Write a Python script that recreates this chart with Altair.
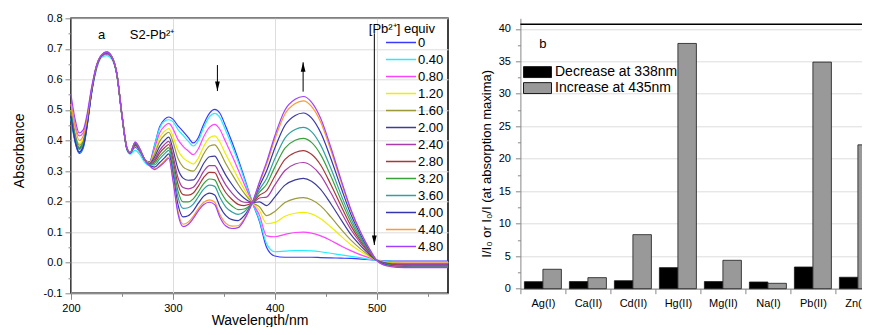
import altair as alt
import pandas as pd

FONT = "Liberation Sans"

# ---------------- panel a : absorption spectra ----------------
WAVELENGTH = [200, 204, 208, 212, 216, 220, 225, 230, 235, 240, 245, 250, 255, 258, 263,
              268, 272, 277, 282, 287, 292, 296, 300, 305, 310, 315, 320, 325, 330, 336,
              341, 346, 352, 358, 364, 370, 378, 385, 392, 400, 410, 420, 428, 436, 445,
              455, 465, 475, 485, 493, 500, 510, 520, 535, 550, 570]

EQUIV = ["0", "0.40", "0.80", "1.20", "1.60", "2.00", "2.40", "2.80", "3.20", "3.60", "4.00", "4.40", "4.80"]
COLORS = ["#3a3aff", "#22eeff", "#ff44ff", "#eeee00", "#9a9a3a", "#3c3c9c", "#a83ca8",
          "#a83838", "#3aa03a", "#30a0a0", "#3535b0", "#ff9a30", "#a040ff"]

A_0 = [0.47, 0.395, 0.358, 0.375, 0.45, 0.55, 0.635, 0.675, 0.683, 0.67, 0.615, 0.48, 0.37, 0.358, 0.378,
       0.36, 0.338, 0.33, 0.385, 0.445, 0.47, 0.477, 0.47, 0.448, 0.43, 0.41, 0.392, 0.41, 0.452, 0.49,
       0.502, 0.49, 0.445, 0.395, 0.34, 0.28, 0.197, 0.135, 0.05, 0.022, 0.018, 0.018, 0.018, 0.018, 0.017,
       0.016, 0.015, 0.014, 0.012, 0.01, 0.008, 0.006, 0.005, 0.005, 0.005, 0.005]
A_040 = [0.473, 0.398, 0.361, 0.378, 0.452, 0.551, 0.633, 0.672, 0.678, 0.666, 0.612, 0.478, 0.368, 0.355, 0.368,
         0.352, 0.33, 0.318, 0.382, 0.44, 0.464, 0.468, 0.462, 0.436, 0.417, 0.398, 0.382, 0.40, 0.441, 0.478,
         0.489, 0.476, 0.431, 0.383, 0.331, 0.274, 0.197, 0.140, 0.062, 0.036, 0.038, 0.040, 0.040, 0.039, 0.036,
         0.031, 0.026, 0.021, 0.016, 0.011, 0.008, 0.005, 0.004, 0.004, 0.004, 0.004]
A_080 = [0.52, 0.45, 0.415, 0.425, 0.48, 0.565, 0.637, 0.676, 0.684, 0.671, 0.616, 0.481, 0.371, 0.358, 0.381,
         0.362, 0.338, 0.328, 0.373, 0.425, 0.448, 0.456, 0.439, 0.403, 0.381, 0.366, 0.354, 0.373, 0.411, 0.444,
         0.453, 0.437, 0.394, 0.351, 0.305, 0.258, 0.197, 0.155, 0.088, 0.085, 0.093, 0.099, 0.100, 0.097, 0.088,
         0.073, 0.055, 0.039, 0.025, 0.016, 0.008, 0.004, 0.002, 0.002, 0.002, 0.002]
A_120 = [0.50, 0.42, 0.39, 0.405, 0.465, 0.558, 0.638, 0.676, 0.685, 0.671, 0.616, 0.481, 0.371, 0.359, 0.383,
         0.363, 0.339, 0.327, 0.363, 0.409, 0.431, 0.439, 0.414, 0.368, 0.343, 0.331, 0.323, 0.343, 0.379, 0.409,
         0.415, 0.395, 0.354, 0.316, 0.277, 0.241, 0.197, 0.171, 0.128, 0.132, 0.152, 0.162, 0.165, 0.160, 0.144,
         0.117, 0.087, 0.058, 0.035, 0.020, 0.008, 0.002, -0.001, -0.001, -0.001, -0.001]
A_160 = [0.50, 0.423, 0.385, 0.397, 0.465, 0.557, 0.639, 0.677, 0.686, 0.672, 0.617, 0.482, 0.372, 0.359, 0.384,
         0.364, 0.339, 0.326, 0.355, 0.397, 0.418, 0.427, 0.396, 0.341, 0.314, 0.304, 0.300, 0.321, 0.355, 0.382,
         0.386, 0.364, 0.324, 0.290, 0.257, 0.228, 0.197, 0.183, 0.154, 0.168, 0.197, 0.210, 0.213, 0.206, 0.186,
         0.150, 0.110, 0.073, 0.043, 0.023, 0.008, 0.000, -0.002, -0.003, -0.003, -0.003]
A_200 = [0.48, 0.40, 0.362, 0.38, 0.455, 0.555, 0.640, 0.677, 0.686, 0.672, 0.617, 0.482, 0.372, 0.359, 0.386,
         0.365, 0.339, 0.324, 0.346, 0.381, 0.401, 0.411, 0.372, 0.307, 0.277, 0.270, 0.271, 0.292, 0.324, 0.347,
         0.349, 0.323, 0.286, 0.256, 0.230, 0.211, 0.197, 0.199, 0.187, 0.215, 0.254, 0.271, 0.276, 0.267, 0.240,
         0.193, 0.141, 0.091, 0.053, 0.027, 0.008, -0.002, -0.005, -0.005, -0.005, -0.005]
A_240 = [0.49, 0.41, 0.375, 0.39, 0.46, 0.556, 0.641, 0.678, 0.687, 0.673, 0.618, 0.483, 0.373, 0.359, 0.388,
         0.366, 0.339, 0.323, 0.338, 0.368, 0.388, 0.397, 0.352, 0.278, 0.246, 0.242, 0.247, 0.269, 0.298, 0.318,
         0.318, 0.290, 0.254, 0.228, 0.208, 0.198, 0.197, 0.212, 0.215, 0.254, 0.302, 0.323, 0.328, 0.317, 0.286,
         0.229, 0.166, 0.107, 0.061, 0.031, 0.008, -0.003, -0.007, -0.007, -0.007, -0.007]
A_280 = [0.49, 0.41, 0.372, 0.39, 0.46, 0.557, 0.642, 0.678, 0.688, 0.673, 0.618, 0.483, 0.373, 0.359, 0.389,
         0.367, 0.339, 0.322, 0.332, 0.359, 0.377, 0.387, 0.337, 0.257, 0.223, 0.221, 0.228, 0.251, 0.278, 0.296,
         0.295, 0.264, 0.229, 0.207, 0.191, 0.187, 0.197, 0.221, 0.236, 0.283, 0.338, 0.361, 0.367, 0.355, 0.320,
         0.256, 0.186, 0.119, 0.067, 0.033, 0.008, -0.005, -0.008, -0.009, -0.009, -0.009]
A_320 = [0.495, 0.415, 0.378, 0.395, 0.465, 0.56, 0.642, 0.679, 0.688, 0.674, 0.619, 0.484, 0.374, 0.359, 0.391,
         0.367, 0.339, 0.321, 0.326, 0.349, 0.366, 0.377, 0.322, 0.235, 0.199, 0.199, 0.209, 0.232, 0.258, 0.274,
         0.271, 0.238, 0.205, 0.186, 0.174, 0.176, 0.197, 0.231, 0.257, 0.313, 0.375, 0.401, 0.407, 0.394, 0.354,
         0.284, 0.205, 0.131, 0.073, 0.036, 0.008, -0.006, -0.010, -0.011, -0.011, -0.011]
A_360 = [0.49, 0.41, 0.37, 0.39, 0.46, 0.558, 0.643, 0.679, 0.689, 0.674, 0.619, 0.484, 0.374, 0.360, 0.392,
         0.368, 0.340, 0.320, 0.320, 0.340, 0.357, 0.368, 0.308, 0.215, 0.178, 0.180, 0.192, 0.216, 0.240, 0.254,
         0.250, 0.215, 0.182, 0.166, 0.158, 0.167, 0.197, 0.240, 0.276, 0.340, 0.408, 0.436, 0.443, 0.429, 0.385,
         0.309, 0.223, 0.142, 0.079, 0.038, 0.008, -0.007, -0.011, -0.012, -0.012, -0.012]
A_400 = [0.48, 0.40, 0.362, 0.38, 0.455, 0.555, 0.644, 0.679, 0.689, 0.674, 0.619, 0.484, 0.374, 0.360, 0.393,
         0.369, 0.340, 0.319, 0.313, 0.328, 0.344, 0.356, 0.291, 0.190, 0.150, 0.154, 0.170, 0.195, 0.217, 0.228,
         0.222, 0.185, 0.154, 0.141, 0.138, 0.154, 0.197, 0.252, 0.301, 0.375, 0.450, 0.482, 0.490, 0.474, 0.426,
         0.341, 0.246, 0.156, 0.087, 0.041, 0.008, -0.008, -0.013, -0.014, -0.014, -0.014]
A_440 = [0.52, 0.445, 0.40, 0.415, 0.475, 0.565, 0.645, 0.68, 0.69, 0.675, 0.62, 0.485, 0.375, 0.36, 0.395,
         0.37, 0.34, 0.318, 0.307, 0.318, 0.334, 0.346, 0.275, 0.168, 0.126, 0.133, 0.152, 0.177, 0.197, 0.206,
         0.198, 0.159, 0.129, 0.120, 0.121, 0.144, 0.197, 0.262, 0.322, 0.404, 0.487, 0.521, 0.530, 0.512, 0.461,
         0.368, 0.265, 0.168, 0.093, 0.044, 0.008, -0.010, -0.014, -0.015, -0.015, -0.015]
A_480 = [0.55, 0.47, 0.425, 0.435, 0.49, 0.57, 0.645, 0.68, 0.69, 0.675, 0.62, 0.485, 0.375, 0.36, 0.395,
         0.37, 0.34, 0.318, 0.305, 0.315, 0.33, 0.342, 0.27, 0.16, 0.118, 0.125, 0.145, 0.17, 0.19, 0.198,
         0.19, 0.15, 0.12, 0.112, 0.115, 0.14, 0.197, 0.265, 0.33, 0.415, 0.50, 0.535, 0.544, 0.526, 0.473,
         0.378, 0.272, 0.172, 0.095, 0.045, 0.008, -0.010, -0.015, -0.016, -0.016, -0.016]

SPECTRA = [A_0, A_040, A_080, A_120, A_160, A_200, A_240, A_280, A_320, A_360, A_400, A_440, A_480]

X_MAJOR = [200, 300, 400, 500]
X_MINOR = [250, 350, 450, 550]
Y_MAJOR = [-0.1, 0.0, 0.1, 0.2, 0.3, 0.4, 0.5, 0.6, 0.7, 0.8]
Y_MINOR = [-0.05, 0.05, 0.15, 0.25, 0.35, 0.45, 0.55, 0.65, 0.75]

ANNOT_TEXT = ["a", "S2-Pb\u00b2\u207a", "[Pb\u00b2\u207a]  equiv"]
ANNOT_X = [226.4, 257.7, 492.3]
ANNOT_Y = [0.745, 0.745, 0.766]

ARROW_WL = [343.7, 427.8, 497.7]
ARROW_FROM = [0.647, 0.56, 0.751]
ARROW_TO = [0.562, 0.656, 0.058]
ARROW_DIR = ["down", "up", "down"]

# ---------------- panel b : bar chart ----------------
IONS = ["Ag(I)", "Ca(II)", "Cd(II)", "Hg(II)", "Mg(II)", "Na(I)", "Pb(II)", "Zn(II)"]
DECREASE_338 = [1.08, 1.1, 1.23, 3.24, 1.1, 1.03, 3.34, 1.76]
INCREASE_435 = [2.99, 1.7, 8.32, 37.75, 4.37, 0.83, 34.88, 22.14]
SERIES = ["Decrease at 338nm", "Increase at 435nm"]
BAR_COLORS = ["#000000", "#999999"]
R_MAJOR = [0, 5, 10, 15, 20, 25, 30, 35, 40]
R_MINOR = [2.5, 7.5, 12.5, 17.5, 22.5, 27.5, 32.5, 37.5]

# ---------------- build tables ----------------
rows = []
for lvl, vals in zip(EQUIV, SPECTRA):
    for w, a in zip(WAVELENGTH, vals):
        rows.append({"wl": w, "absorb": a, "equiv": lvl})
spec_df = pd.DataFrame(rows)
annot_df = pd.DataFrame({"t": ANNOT_TEXT, "x": ANNOT_X, "y": ANNOT_Y})
arrow_df = pd.DataFrame({"wl": ARROW_WL, "y1": ARROW_FROM, "y2": ARROW_TO, "dir": ARROW_DIR})

bar_rows = []
for ion, d, inc in zip(IONS, DECREASE_338, INCREASE_435):
    bar_rows.append({"ion": ion, "series": SERIES[0], "value": d})
    bar_rows.append({"ion": ion, "series": SERIES[1], "value": inc})
bar_df = pd.DataFrame(bar_rows)

xs = alt.Scale(domain=[200, 570], nice=False, zero=False)
ys = alt.Scale(domain=[-0.1, 0.8], nice=False, zero=False)

x_axis = alt.Axis(orient="bottom", title="Wavelength/nm", values=X_MAJOR, labelOverlap=False,
                  labelFlush=False, tickSize=6, labelFontSize=11, titleFontSize=14,
                  titleFontWeight="normal", labelPadding=3, titlePadding=0.5)
y_axis = alt.Axis(orient="left", title="Absorbance", values=Y_MAJOR, labelOverlap=False,
                  labelFlush=False, labelExpr="replace(format(datum.value, '.1f'), '\u2212', '-')",
                  tickSize=6, labelFontSize=11, titleFontSize=14, titleFontWeight="normal",
                  labelPadding=3, titlePadding=17, titleY=132)
x_minor = alt.Axis(orient="bottom", values=X_MINOR, labels=False, tickSize=3, domain=False, title=None)
y_minor = alt.Axis(orient="left", values=Y_MINOR, labels=False, tickSize=3, domain=False, title=None)

lines = alt.Chart(spec_df).mark_line(strokeWidth=1.2, interpolate="monotone").encode(
    x=alt.X("wl:Q", scale=xs, axis=x_axis),
    y=alt.Y("absorb:Q", scale=ys, axis=y_axis),
    color=alt.Color("equiv:N", sort=EQUIV,
                    scale=alt.Scale(domain=EQUIV, range=COLORS),
                    legend=alt.Legend(title=None, orient="none", legendX=314, legendY=16.0,
                                      symbolType="stroke", symbolSize=900, symbolStrokeWidth=1.5,
                                      labelFontSize=13, labelFont=FONT, labelColor="black",
                                      labelOffset=1, clipHeight=16.55, rowPadding=0, padding=0)),
)

arrow_lines = alt.Chart(arrow_df).mark_rule(color="black", strokeWidth=1).encode(
    x=alt.X("wl:Q", scale=xs, axis=x_minor), y=alt.Y("y1:Q", scale=ys, axis=y_minor), y2="y2:Q")
head_down = alt.Chart(arrow_df).transform_filter("datum.dir == 'down'").mark_point(
    shape="M-0.5,-1L0.5,-1L0,1Z", size=90, filled=True, color="black", opacity=1, yOffset=-4.7).encode(
    x=alt.X("wl:Q", scale=xs, axis=None), y=alt.Y("y2:Q", scale=ys, axis=None))
head_up = alt.Chart(arrow_df).transform_filter("datum.dir == 'up'").mark_point(
    shape="M-0.5,1L0.5,1L0,-1Z", size=90, filled=True, color="black", opacity=1, yOffset=4.7).encode(
    x=alt.X("wl:Q", scale=xs, axis=None), y=alt.Y("y2:Q", scale=ys, axis=None))
annot = alt.Chart(annot_df).mark_text(align="left", baseline="middle", fontSize=13,
                                       font=FONT, color="black").encode(
    x=alt.X("x:Q", scale=xs, axis=None), y=alt.Y("y:Q", scale=ys, axis=None), text="t:N")

left = alt.layer(lines, arrow_lines, head_down, head_up, annot).resolve_axis(
    x="independent", y="independent"
).properties(width=377, height=275,
             view=alt.ViewBackground(stroke="black", strokeWidth=1.5))

# right panel
rys = alt.Scale(domain=[0, 41.62], nice=False, zero=True)
bars = alt.Chart(bar_df).mark_bar(stroke="#1a1a1a", strokeWidth=0.8).encode(
    x=alt.X("ion:N", sort=IONS, scale=alt.Scale(paddingInner=0, paddingOuter=0),
            axis=alt.Axis(orient="bottom", title=None, tickBand="extent", labelAngle=0, labelFontSize=11,
                          tickSize=5, labelPadding=4, labelOverlap=False)),
    xOffset=alt.XOffset("series:N", sort=SERIES, scale=alt.Scale(paddingInner=0, paddingOuter=0.216)),
    y=alt.Y("value:Q", scale=rys,
            axis=alt.Axis(orient="left", title="I/I\u2080 or I\u2080/I (at absorption maxima)",
                          values=R_MAJOR, labelOverlap=False, labelFlush=False, tickSize=5,
                          labelFontSize=11, titleFontSize=13, titleFontWeight="normal",
                          labelPadding=5, titlePadding=5, titleY=145)),
    color=alt.Color("series:N", sort=SERIES, scale=alt.Scale(domain=SERIES, range=BAR_COLORS),
                    legend=alt.Legend(title=None, orient="none", legendX=2.6, legendY=45.8,
                                      symbolType="M-1,-0.39H1V0.39H-1Z", symbolSize=784,
                                      symbolStrokeColor="#1a1a1a", symbolStrokeWidth=1,
                                      labelFontSize=14, labelFont=FONT, labelColor="black",
                                      labelOffset=3, clipHeight=16.0, rowPadding=0, padding=0)),
)
frame_top = alt.Chart(pd.DataFrame({"v": [40.7]})).mark_rule(color="black", strokeWidth=1.5).encode(
    y=alt.Y("v:Q", scale=rys,
            axis=alt.Axis(orient="left", values=R_MINOR, labels=False, tickSize=3, domain=False, title=None)))
label_b = alt.Chart(pd.DataFrame({"ion": ["Ag(I)"], "v": [37.66], "t": ["b"]})).mark_text(
    fontSize=13, font=FONT, color="black", baseline="middle").encode(
    x=alt.X("ion:N", sort=IONS, axis=None), y=alt.Y("v:Q", scale=rys, axis=None), text="t:N")

right = alt.layer(bars, frame_top, label_b).resolve_axis(
    x="independent", y="independent"
).properties(width=360, height=270.4, view=alt.ViewBackground(stroke="transparent"))

chart = alt.hconcat(left, right, spacing=72.4, bounds="flush").resolve_scale(
    color="independent"
).resolve_legend(
    color="independent"
).properties(
    autosize=alt.AutoSizeParams(type="none"),
    padding={"left": 63, "top": 10.3, "right": 791, "bottom": 308.7},
).configure_axis(
    labelFont=FONT, titleFont=FONT, labelColor="black", titleColor="black",
    domainColor="black", tickColor="black", domainWidth=1.5, tickWidth=1,
    titleFontWeight="normal", grid=False
).configure(background="white")

chart.save("out.html", embed_options={"renderer": "svg", "actions": False})
